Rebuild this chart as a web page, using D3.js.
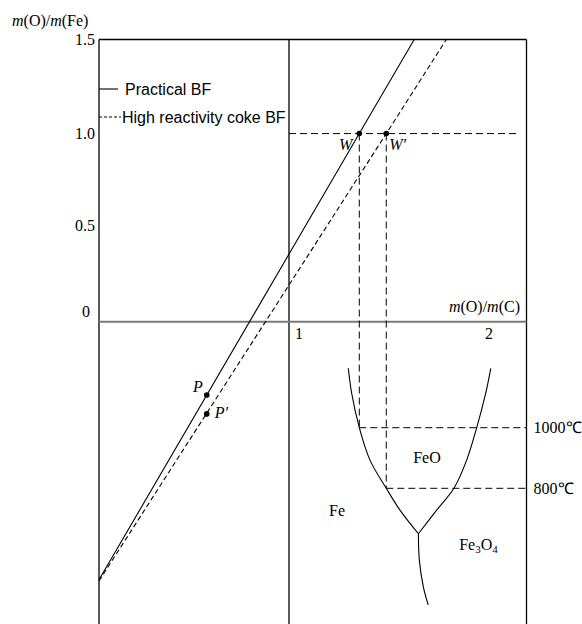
<!DOCTYPE html>
<html>
<head>
<meta charset="utf-8">
<script src="https://cdn.jsdelivr.net/npm/d3@7"></script>
<style>
  body { margin: 0; background: #fff; }
  svg text { fill: #000; }
  .serif { font-family: "Liberation Serif", "Times New Roman", serif; font-size: 16px; }
  .sans { font-family: "Liberation Sans", Arial, sans-serif; font-size: 16px; }
</style>
</head>
<body>
<div id="chart"></div>
<script>
// operating lines  [m(O)/m(C), m(O)/m(Fe)]
var practicalBF = [[0, -1.372], [1.370, 1.0], [1.659, 1.5]]
var reactiveBF = [[0, -1.378], [1.512, 1.0], [1.828, 1.5]]

// named points
var pointNames = ['P', 'P\u2032']
var pointX = [0.567, 0.567]
var pointY = [-0.39, -0.49]
var wNames = ['W', 'W\u2032']
var wX = [1.370, 1.512]
var wY = [1.0, 1.0]

// Fe-O-C equilibrium curves  [m(O)/m(C), temperature]
var feFeO = [[1.312, 1196], [1.330, 1113], [1.370, 1000], [1.426, 893], [1.512, 800], [1.584, 728], [1.681, 650]]
var feoFe3o4 = [[2.062, 1196], [2.035, 1113], [1.988, 1000], [1.935, 893], [1.868, 800], [1.777, 728], [1.681, 650]]
var feFe3o4 = [[1.681, 650], [1.686, 563], [1.707, 475], [1.733, 415]]

var temps = [1000, 800]
var yTicks = [0, 0.5, 1.0, 1.5]
var xTicks = [1, 2]

var width = 582
var height = 624

var x = d3.scaleLinear().domain([0, 2]).range([99, 479])
var y = d3.scaleLinear().domain([0, 1.5]).range([321.7, 39.5])
var t = d3.scaleLinear().domain([1000, 800]).range([427.7, 488.3])
var xMax = 2.25

var svg = d3.select('#chart').append('svg')
    .attr('width', width)
    .attr('height', height)

// frame
var frame = svg.append('g').attr('stroke', '#000').attr('stroke-width', 1.3).attr('fill', 'none')
frame.append('line').attr('x1', x(0)).attr('x2', x(0)).attr('y1', y(1.5)).attr('y2', height)
frame.append('line').attr('x1', x(1)).attr('x2', x(1)).attr('y1', y(1.5)).attr('y2', height)
frame.append('line').attr('x1', x(xMax)).attr('x2', x(xMax)).attr('y1', y(1.5)).attr('y2', height)
frame.append('line').attr('x1', x(0)).attr('x2', x(xMax)).attr('y1', y(1.5)).attr('y2', y(1.5))

// horizontal zero axis
svg.append('line')
    .attr('x1', x(0)).attr('x2', x(xMax))
    .attr('y1', y(0)).attr('y2', y(0))
    .attr('stroke', '#7a7a7a').attr('stroke-width', 2)

// y axis labels
var yAxis = svg.append('g')
    .attr('transform', 'translate(' + x(0) + ',0)')
    .call(d3.axisLeft(y).tickValues(yTicks).tickSize(0).tickPadding(4)
        .tickFormat(d => d === 0 ? '0' : d3.format('.1f')(d)))
yAxis.select('.domain').remove()
yAxis.selectAll('text').attr('class', 'serif').attr('font-size', null).attr('font-family', null)
yAxis.selectAll('.tick').filter(d => d === 0).select('text').attr('dy', '-0.3em').attr('x', -9)
yAxis.selectAll('.tick').filter(d => d === 0.5).select('text').attr('dy', '0.15em')

// x axis labels
var xAxis = svg.append('g')
    .attr('transform', 'translate(0,' + y(0) + ')')
    .call(d3.axisBottom(x).tickValues(xTicks).tickSize(0).tickPadding(6).tickFormat(d3.format('d')))
xAxis.select('.domain').remove()
xAxis.selectAll('text').attr('class', 'serif').attr('font-size', null).attr('font-family', null).attr('dx', 9.5)

// axis titles
var yTitle = svg.append('text').attr('class', 'serif').attr('x', 12).attr('y', 26)
yTitle.append('tspan').attr('font-style', 'italic').text('m')
yTitle.append('tspan').text('(O)/')
yTitle.append('tspan').attr('font-style', 'italic').text('m')
yTitle.append('tspan').text('(Fe)')

var xTitle = svg.append('text').attr('class', 'serif').attr('x', x(2.2) + 3).attr('y', 312).attr('text-anchor', 'end')
xTitle.append('tspan').attr('font-style', 'italic').text('m')
xTitle.append('tspan').text('(O)/')
xTitle.append('tspan').attr('font-style', 'italic').text('m')
xTitle.append('tspan').text('(C)')

// dashed guide lines
var guides = svg.append('g').attr('stroke', '#000').attr('stroke-width', 1).attr('stroke-dasharray', '7,4')
guides.append('line').attr('x1', x(1)).attr('x2', x(2.2)).attr('y1', y(1)).attr('y2', y(1))
for (var i = 0; i < 2; i++) {
  guides.append('line')
      .attr('x1', x(wX[i])).attr('x2', x(wX[i]))
      .attr('y1', y(wY[i])).attr('y2', t(temps[i]))
  guides.append('line')
      .attr('x1', x(wX[i])).attr('x2', x(xMax))
      .attr('y1', t(temps[i])).attr('y2', t(temps[i]))
  svg.append('text').attr('class', 'serif')
      .attr('x', x(xMax) + 7).attr('y', t(temps[i]) + 5.5)
      .text(temps[i] + '\u2103')
}

// operating lines
var opLine = d3.line().x(d => x(d[0])).y(d => y(d[1]))
svg.append('path').datum(practicalBF)
    .attr('d', opLine).attr('fill', 'none').attr('stroke', '#000').attr('stroke-width', 1.1)
svg.append('path').datum(reactiveBF)
    .attr('d', opLine).attr('fill', 'none').attr('stroke', '#000').attr('stroke-width', 1.1)
    .attr('stroke-dasharray', '5,3')

// equilibrium curves
var eqLine = d3.line().x(d => x(d[0])).y(d => t(d[1])).curve(d3.curveCatmullRom)
;[feFeO, feoFe3o4, feFe3o4].forEach(c => {
  svg.append('path').datum(c)
      .attr('d', eqLine).attr('fill', 'none').attr('stroke', '#000').attr('stroke-width', 1.1)
})

// points W, W'
svg.selectAll('.wdot').data(wX).enter().append('circle')
    .attr('cx', d => x(d)).attr('cy', (d, i) => y(wY[i])).attr('r', 2.8).attr('fill', '#000')
svg.append('text').attr('class', 'serif').attr('font-style', 'italic')
    .attr('x', x(wX[0]) - 7).attr('y', y(wY[0]) + 16).attr('text-anchor', 'end').text(wNames[0])
svg.append('text').attr('class', 'serif').attr('font-style', 'italic')
    .attr('x', x(wX[1]) + 3).attr('y', y(wY[1]) + 16).text(wNames[1])

// points P, P'
svg.selectAll('.pdot').data(pointX).enter().append('circle')
    .attr('cx', d => x(d)).attr('cy', (d, i) => y(pointY[i])).attr('r', 2.8).attr('fill', '#000')
svg.append('text').attr('class', 'serif').attr('font-style', 'italic')
    .attr('x', x(pointX[0]) - 4).attr('y', y(pointY[0]) - 3).attr('text-anchor', 'end').text(pointNames[0])
svg.append('text').attr('class', 'serif').attr('font-style', 'italic')
    .attr('x', x(pointX[1]) + 8).attr('y', y(pointY[1]) + 4).text(pointNames[1])

// phase labels
svg.append('text').attr('class', 'serif').attr('text-anchor', 'middle')
    .attr('x', x(1.726)).attr('y', t(883)).text('FeO')
svg.append('text').attr('class', 'serif').attr('text-anchor', 'middle')
    .attr('x', x(1.253)).attr('y', t(709)).text('Fe')
var fe3o4 = svg.append('text').attr('class', 'serif').attr('text-anchor', 'middle')
    .attr('x', x(1.997)).attr('y', t(596))
fe3o4.append('tspan').text('Fe')
fe3o4.append('tspan').attr('font-size', 11).attr('dy', 3).text('3')
fe3o4.append('tspan').attr('dy', -3).text('O')
fe3o4.append('tspan').attr('font-size', 11).attr('dy', 3).text('4')

// legend
var legend = svg.append('g')
legend.append('line').attr('x1', 99).attr('x2', 118).attr('y1', 89).attr('y2', 89)
    .attr('stroke', '#000').attr('stroke-width', 1.1)
legend.append('text').attr('class', 'sans').attr('x', 125).attr('y', 94.5).text('Practical BF')
legend.append('line').attr('x1', 99).attr('x2', 121).attr('y1', 117).attr('y2', 117)
    .attr('stroke', '#000').attr('stroke-width', 1).attr('stroke-dasharray', '3,2')
legend.append('text').attr('class', 'sans').attr('x', 122).attr('y', 122.5).text('High reactivity coke BF')
</script>
</body>
</html>
